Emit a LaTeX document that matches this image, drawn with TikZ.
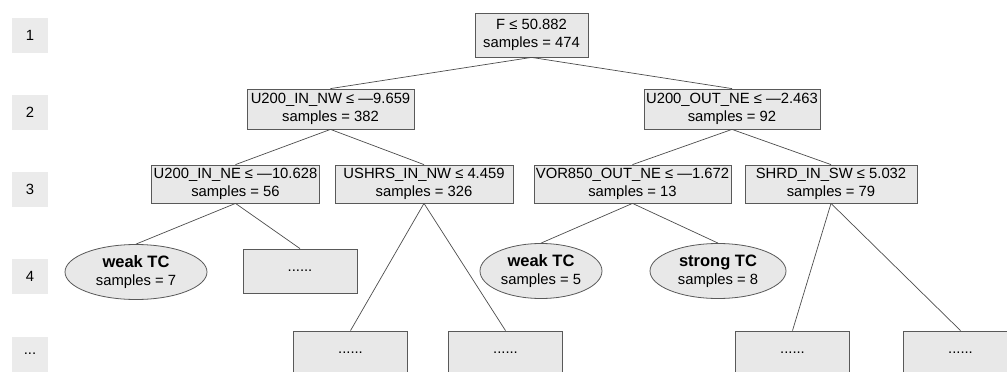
\documentclass[tikz,border=0pt]{standalone}
\usepackage{fontspec}
\setmainfont{Liberation Sans}
\usetikzlibrary{shapes.geometric}

\begin{document}
\begin{tikzpicture}[x=1pt, y=-1pt,
  font=\fontsize{14.8}{18}\selectfont,
  split/.style={rectangle, draw=black!65, line width=0.8pt, fill=black!9,
                minimum height=40pt, inner sep=2pt, align=center},
  more/.style={split, minimum width=114pt, minimum height=44pt},
  leaf/.style={ellipse, draw=black!65, line width=0.8pt, fill=black!9,
               minimum height=55pt, inner sep=1pt, align=center},
  tag/.style={rectangle, fill=black!8, minimum width=36pt, minimum height=35pt},
  edge/.style={draw=black!70, line width=0.7pt}
]
\useasboundingbox (0,0) rectangle (1007,372);
\clip (0,0) rectangle (1007,372);

% depth column
\node[tag] (d1) at (30,35)    {1};
\node[tag] (d2) at (30,112)   {2};
\node[tag] (d3) at (30,189.5) {3};
\node[tag] (d4) at (30,276.5) {4};
\node[tag] (d5) at (30,354)   {...};

% splits
\node[split, minimum width=113pt, minimum height=44pt] (root) at (531.5,35) {F ≤ 50.882\\samples = 474};
\node[split, minimum width=167pt] (inw)  at (330.5,109) {U200\_IN\_NW ≤ —9.659\\samples = 382};
\node[split, minimum width=168pt] (onw)  at (732,109)   {U200\_OUT\_NE ≤ —2.463\\samples = 92};
\node[split, minimum width=157pt, minimum height=38pt] (ine)  at (235.5,184) {U200\_IN\_NE ≤ —10.628\\samples = 56};
\node[split, minimum width=178pt, minimum height=38pt] (shrs) at (424,184)   {USHRS\_IN\_NW ≤ 4.459\\samples = 326};
\node[split, minimum width=197pt, minimum height=38pt] (vor)  at (632.5,184) {VOR850\_OUT\_NE ≤ —1.672\\samples = 13};
\node[split, minimum width=172pt, minimum height=38pt] (shrd) at (831,184)   {SHRD\_IN\_SW ≤ 5.032\\samples = 79};

% leaves and cut branches
\node[leaf, minimum width=142pt] (wk1) at (136,272) {\textbf{\fontsize{16.5}{19}\selectfont weak TC}\\samples = 7};
\node[more] (m1) at (300,271) {......};
\node[leaf, minimum width=122pt] (wk2) at (541,271) {\textbf{\fontsize{16.5}{19}\selectfont weak TC}\\samples = 5};
\node[leaf, minimum width=136pt] (st1) at (718,271) {\textbf{\fontsize{16.5}{19}\selectfont strong TC}\\samples = 8};
\node[more] (m2) at (350.5,353) {......};
\node[more] (m3) at (505.5,353) {......};
\node[more] (m4) at (792.5,353) {......};
\node[more] (m5) at (960.5,353) {......};

% branches
\draw[edge] (root.south) -- (inw.north);
\draw[edge] (root.south) -- (onw.north);
\draw[edge] (inw.south) -- (ine.north);
\draw[edge] (inw.south) -- (shrs.north);
\draw[edge] (onw.south) -- (vor.north);
\draw[edge] (onw.south) -- (shrd.north);
\draw[edge] (ine.south) -- (wk1.north);
\draw[edge] (ine.south) -- (m1.north);
\draw[edge] (shrs.south) -- (m2.north);
\draw[edge] (shrs.south) -- (m3.north);
\draw[edge] (vor.south) -- (wk2.north);
\draw[edge] (vor.south) -- (st1.north);
\draw[edge] (shrd.south) -- (m4.north);
\draw[edge] (shrd.south) -- (m5.north);
\end{tikzpicture}
\end{document}
